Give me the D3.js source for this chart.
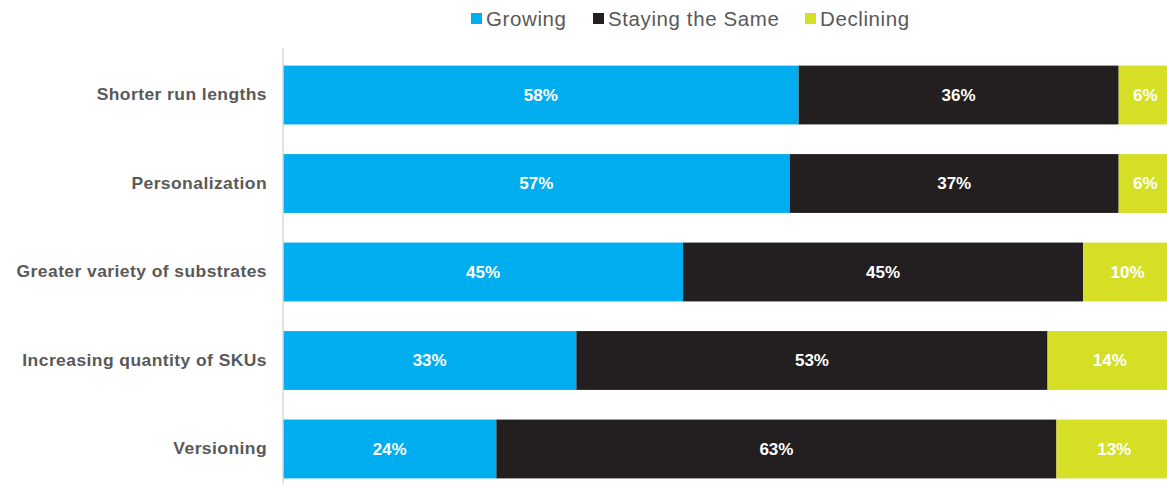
<!DOCTYPE html>
<html>
<head>
<meta charset="utf-8">
<script src="https://cdn.jsdelivr.net/npm/d3@7"></script>
<style>
  body { margin: 0; background: #fff; }
  text { font-family: "Liberation Sans", Arial, sans-serif; }
</style>
</head>
<body>
<div class="chart"></div>
<script>
var categories = ["Shorter run lengths", "Personalization", "Greater variety of substrates", "Increasing quantity of SKUs", "Versioning"];
var seriesNames = ["Growing", "Staying the Same", "Declining"];
var growing = [58, 57, 45, 33, 24];
var stayingSame = [36, 37, 45, 53, 63];
var declining = [6, 6, 10, 14, 13];
var colors = ["#00aeef", "#231f20", "#d4df26"];

var width = 1167, height = 484;
// plot runs a little past the right edge, as in the original
var margin = { left: 283, right: -5, top: 51, bottom: -9 };

var rows = categories.map(function(c, i) {
    return { name: c, Growing: growing[i], "Staying the Same": stayingSame[i], Declining: declining[i] };
});

var svg = d3.select(".chart").append("svg")
    .attr("width", width)
    .attr("height", height);

var x = d3.scaleLinear().domain([0, 100]).range([margin.left, width - margin.right]);
var y = d3.scaleBand().domain(categories).range([margin.top, height - margin.bottom]).paddingInner(0.335).paddingOuter(0.165);

var stack = d3.stack().keys(seriesNames)(rows);

var layer = svg.append("g").selectAll("g")
    .data(stack)
    .enter().append("g")
    .attr("fill", function(d, i) { return colors[i]; });

layer.selectAll("rect")
    .data(function(d) { return d; })
    .enter().append("rect")
    .attr("x", function(d) { return x(d[0]); })
    .attr("width", function(d) { return x(d[1]) - x(d[0]); })
    .attr("y", function(d) { return y(d.data.name); })
    .attr("height", y.bandwidth());

layer.selectAll("text")
    .data(function(d) { return d.map(function(p) { return { p: p, key: d.key }; }); })
    .enter().append("text")
    .attr("x", function(d) { return (x(d.p[0]) + x(d.p[1])) / 2; })
    .attr("y", function(d) { return y(d.p.data.name) + y.bandwidth() / 2; })
    .attr("dy", "0.35em")
    .attr("text-anchor", "middle")
    .attr("fill", "#fff")
    .style("font-size", "17px")
    .style("font-weight", "bold")
    .text(function(d) { return d.p.data[d.key] + "%"; });

// vertical axis line
svg.append("line")
    .attr("x1", margin.left).attr("x2", margin.left)
    .attr("y1", 48).attr("y2", height)
    .attr("stroke", "#d9d9d9")
    .attr("stroke-width", 1.5);

var yAxis = d3.axisLeft(y).tickSize(0).tickPadding(16);
var ag = svg.append("g")
    .attr("transform", "translate(" + margin.left + ",0)")
    .call(yAxis);
ag.select(".domain").remove();
ag.selectAll("text")
    .attr("fill", "#595959")
    .style("font-size", "16.5px")
    .style("letter-spacing", "0.4px")
    .style("font-weight", "bold")
    .attr("transform", "scale(1.06,1)")
    .attr("x", -16 / 1.06);

// legend
var legendX = [471, 593, 805];
var legend = svg.append("g").selectAll("g")
    .data(seriesNames)
    .enter().append("g")
    .attr("transform", function(d, i) { return "translate(" + legendX[i] + ",12)"; });

legend.append("rect")
    .attr("width", 11).attr("height", 11)
    .attr("y", 1)
    .attr("fill", function(d, i) { return colors[i]; });

legend.append("text")
    .attr("x", 15)
    .attr("y", 7)
    .attr("dy", "0.35em")
    .attr("fill", "#595959")
    .style("font-size", "20.5px")
    .style("letter-spacing", "0.6px")
    .text(function(d) { return d; });
</script>
</body>
</html>
